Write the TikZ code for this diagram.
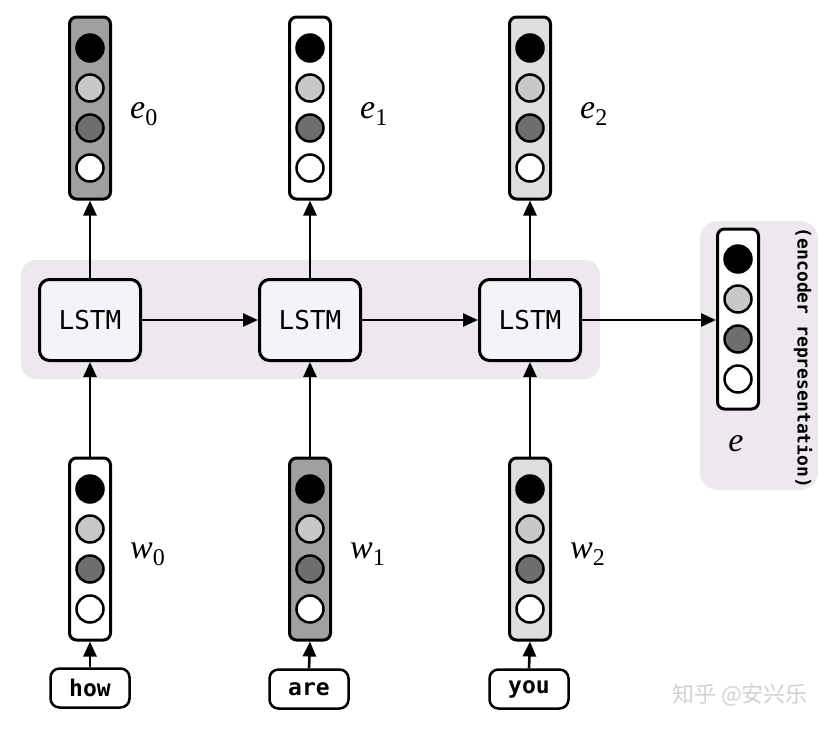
\documentclass[tikz,border=0pt]{standalone}
\usepackage{fontspec}
\newfontfamily\monofont{DejaVu Sans Mono}
\newfontfamily\serifit{Liberation Serif}
\newfontfamily\cjkfont{Noto Sans CJK SC}
\usetikzlibrary{arrows.meta}
\definecolor{panelbg}{RGB}{236,232,238}
\definecolor{lstmbg}{RGB}{245,243,247}
\definecolor{cdark}{RGB}{110,110,110}
\definecolor{clight}{RGB}{200,200,200}
\definecolor{vmid}{RGB}{160,160,160}
\definecolor{vlight}{RGB}{222,222,222}
\newcommand\mkvec[5]{% name, x, y, fill, height
  \node[vecbox, fill=#4, minimum height=#5pt] (#1) at (#2,#3) {};
  \node[unit, fill=black]  (#1a) at (#2,{#3-60}) {};
  \node[unit, fill=clight] (#1b) at (#2,{#3-20}) {};
  \node[unit, fill=cdark]  (#1c) at (#2,{#3+20}) {};
  \node[unit, fill=white]  (#1d) at (#2,{#3+60}) {};
}
\newcommand\symsub[2]{{\itshape #1}\raisebox{-7pt}{\fontsize{24}{24}\selectfont #2}}
\begin{document}
\begin{tikzpicture}[x=1pt,y=-1pt,
  vecbox/.style={draw, line width=3pt, rounded corners=7pt, minimum width=41pt, inner sep=0pt},
  unit/.style={circle, draw, line width=2.5pt, minimum size=27pt, inner sep=0pt},
  lstm/.style={draw, line width=3pt, rounded corners=10pt, fill=lstmbg, minimum width=101pt, minimum height=81pt, inner sep=0pt, font=\monofont\fontsize{26}{26}\selectfont},
  word/.style={draw, line width=2.5pt, rounded corners=9pt, fill=white, minimum width=79pt, minimum height=39pt, inner sep=0pt, font=\monofont\bfseries\fontsize{23}{23}\selectfont},
  conn/.style={line width=2.6pt, -{Triangle[length=15pt,width=13pt]}},
  lbl/.style={font=\serifit\fontsize{34}{34}\selectfont, inner sep=0pt, anchor=base west},
  panel/.style={fill=panelbg}
]
\useasboundingbox (0,0) rectangle (840,729);
% background panels
\fill[panel, rounded corners=15pt] (21,260) rectangle (600,379);
\fill[panel, rounded corners=18pt] (700,221) rectangle (818,490);

% LSTM cells
\node[lstm] (l0) at (90,320) {LSTM};
\node[lstm] (l1) at (310,320) {LSTM};
\node[lstm] (l2) at (530,320) {LSTM};

% output vectors
\mkvec{e0}{90}{108}{vmid}{182}
\mkvec{e1}{310}{108}{white}{182}
\mkvec{e2}{530}{108}{vlight}{182}

% input vectors
\mkvec{w0}{90}{549}{white}{182}
\mkvec{w1}{310}{549}{vmid}{182}
\mkvec{w2}{530}{549}{vlight}{182}

% encoder representation
\mkvec{ev}{738}{319}{white}{180}

% words
\node[word] (t0) at (90,688) {how};
\node[word] (t1) at (309,689) {are};
\node[word] (t2) at (529,689) {you};

% labels
\node[lbl] (le0) at (130,118) {\symsub{e}{0}};
\node[lbl] (le1) at (360,118) {\symsub{e}{1}};
\node[lbl] (le2) at (580,118) {\symsub{e}{2}};
\node[lbl] (lw0) at (130,558) {\symsub{w}{0}};
\node[lbl] (lw1) at (350,558) {\symsub{w}{1}};
\node[lbl] (lw2) at (570,558) {\symsub{w}{2}};
\node[lbl, anchor=base] (le) at (736,451) {\itshape e};
\node[rotate=-90, inner sep=0pt, font=\monofont\bfseries\fontsize{18}{18}\selectfont] (enc) at (803,358) {(encoder representation)};

% connectors
\foreach \i in {0,1,2}{
  \draw[conn] (t\i.north) -- (w\i.south);
  \draw[conn] (w\i.north) -- (l\i.south);
  \draw[conn] (l\i.north) -- (e\i.south);
}
\draw[conn] (l0.east) -- (l1.west);
\draw[conn] (l1.east) -- (l2.west);
\draw[conn] (l2.east) -- (l2.east -| ev.west);

% watermark
\node[text=black!18, font=\cjkfont\fontsize{22}{22}\selectfont, inner sep=0pt] (wm) at (740,695) {知乎 @安兴乐};
\end{tikzpicture}
\end{document}
